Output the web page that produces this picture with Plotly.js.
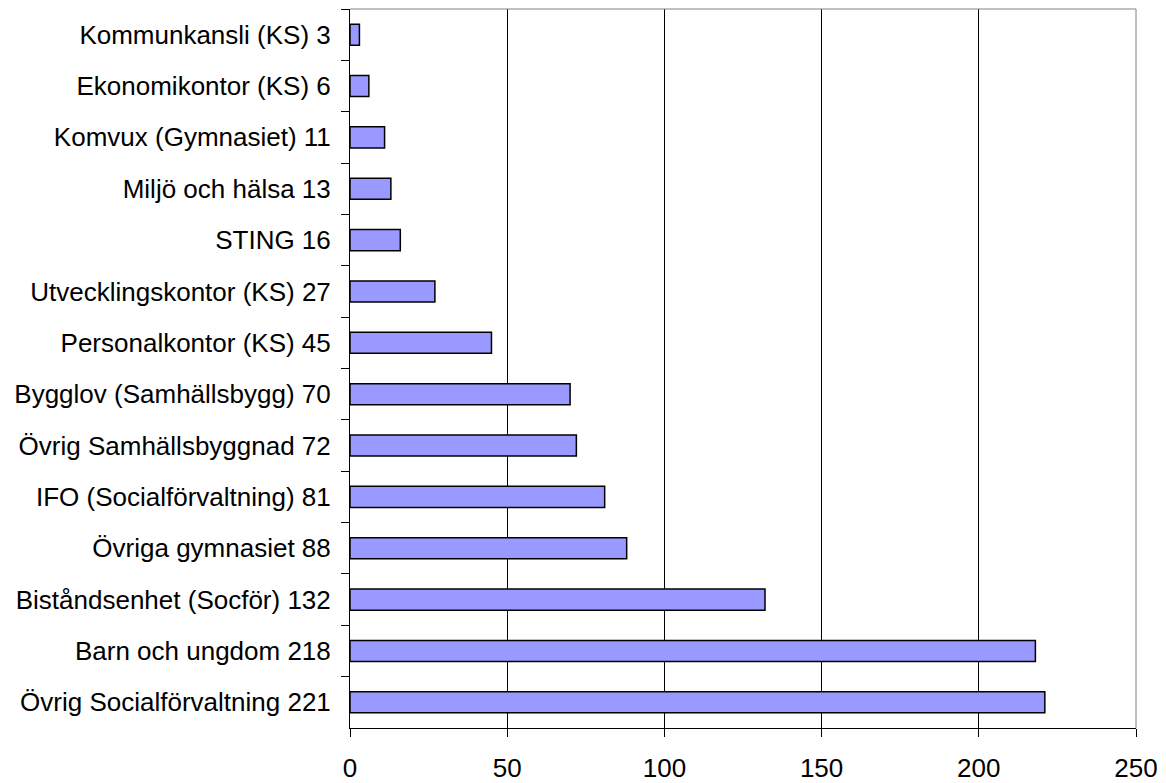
<!DOCTYPE html>
<html>
<head>
<meta charset="utf-8">
<script src="https://cdn.plot.ly/plotly-3.0.1.min.js"></script>
<style>html,body{margin:0;padding:0;background:#fff;}#chart{width:1166px;height:783px;}</style>
</head>
<body>
<div id="chart"></div>
<script>
const categories = [
  "Kommunkansli (KS) 3",
  "Ekonomikontor (KS) 6",
  "Komvux (Gymnasiet) 11",
  "Miljö och hälsa 13",
  "STING 16",
  "Utvecklingskontor (KS) 27",
  "Personalkontor (KS) 45",
  "Bygglov (Samhällsbygg) 70",
  "Övrig Samhällsbyggnad 72",
  "IFO (Socialförvaltning) 81",
  "Övriga gymnasiet 88",
  "Biståndsenhet (Socför) 132",
  "Barn och ungdom 218",
  "Övrig Socialförvaltning 221"
];
const values = [3, 6, 11, 13, 16, 27, 45, 70, 72, 81, 88, 132, 218, 221];
const xTicks = [0, 50, 100, 150, 200, 250];

const trace = {
  type: "bar",
  orientation: "h",
  x: values,
  y: categories,
  marker: { color: "#9999FF", line: { color: "#000000", width: 1.5 } },
  hoverinfo: "x+y"
};

const layout = {
  width: 1166,
  height: 783,
  margin: { l: 350, r: 30, t: 9, b: 55, pad: 0 },
  paper_bgcolor: "#ffffff",
  plot_bgcolor: "#ffffff",
  font: { family: "Liberation Sans, Arial, sans-serif", size: 26, color: "#000000" },
  bargap: 0.59,
  showlegend: false,
  xaxis: {
    range: [0, 250],
    tickvals: xTicks,
    ticktext: xTicks.map(String),
    showgrid: true,
    gridcolor: "#000000",
    gridwidth: 1,
    zeroline: false,
    showline: true,
    linecolor: "#000000",
    linewidth: 1,
    ticks: "outside",
    ticklen: 8,
    tickcolor: "#000000",
    tickwidth: 1,
    ticklabelstandoff: 9,
    tickfont: { size: 26, color: "#000000" },
    fixedrange: true
  },
  yaxis: {
    type: "category",
    autorange: "reversed",
    showgrid: false,
    zeroline: false,
    showline: true,
    linecolor: "#000000",
    linewidth: 1,
    ticks: "outside",
    tickson: "boundaries",
    ticklen: 8,
    tickcolor: "#000000",
    tickwidth: 1,
    ticklabelstandoff: 13,
    tickfont: { size: 26, color: "#000000" },
    fixedrange: true
  },
  shapes: [
    {
      type: "path",
      xref: "paper",
      yref: "paper",
      path: "M0,1 L1,1 L1,0",
      line: { color: "#808080", width: 1 },
      layer: "above"
    }
  ]
};

Plotly.newPlot("chart", [trace], layout, { staticPlot: true, displayModeBar: false });
</script>
</body>
</html>
